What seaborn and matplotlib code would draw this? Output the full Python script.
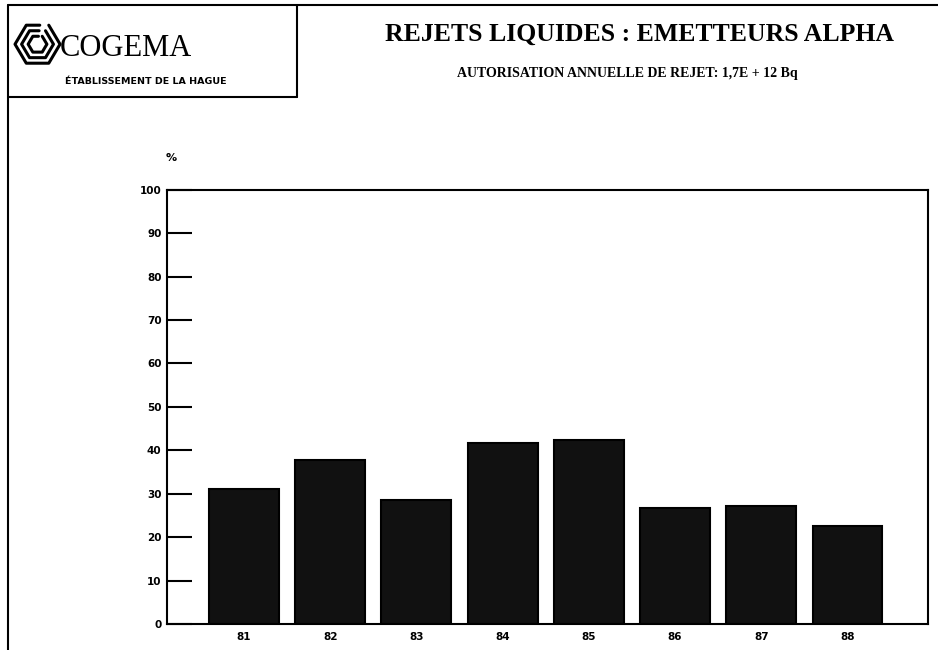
import matplotlib
matplotlib.use("Agg")
import matplotlib.pyplot as plt
import seaborn as sns
from matplotlib.lines import Line2D

# data
years = ["81", "82", "83", "84", "85", "86", "87", "88"]
percent = [31.2, 37.8, 28.6, 41.6, 42.4, 26.7, 27.2, 22.6]
y_ticks = [0, 10, 20, 30, 40, 50, 60, 70, 80, 90, 100]

sns.set_style("white")
plt.rcParams["font.family"] = ["DejaVu Sans"]
plt.rcParams["text.color"] = "black"
plt.rcParams["xtick.color"] = "black"
plt.rcParams["ytick.color"] = "black"

fig = plt.figure(figsize=(9.38, 6.5), dpi=100)
ax = fig.add_axes([0.178, 0.040, 0.811, 0.668])

sns.barplot(x=years, y=percent, color="#111111", edgecolor="black",
            linewidth=1.5, width=0.81, saturation=1, ax=ax)

ax.set_xlim(-0.893, 7.93)
ax.set_ylim(0, 100)
ax.set_yticks(y_ticks)
ax.set_yticklabels([str(t) for t in y_ticks], fontsize=7.5, fontweight="bold")
ax.set_xticklabels(years, fontsize=7.5, fontweight="bold")
ax.tick_params(axis="y", direction="in", length=18, width=1.5, pad=4,
               left=True)
ax.tick_params(axis="x", length=0, pad=6)
ax.set_xlabel("")
ax.set_ylabel("")
for s in ax.spines.values():
    s.set_visible(True)
    s.set_linewidth(1.5)
    s.set_color("black")

# "%" unit label above the axis
fig.text(0.183, 0.757, "%", fontsize=8, fontweight="bold", ha="center", va="center")

# titles
fig.text(0.682, 0.948, "REJETS LIQUIDES : EMETTEURS ALPHA",
         fontsize=18.5, family="Liberation Serif", fontweight="bold",
         ha="center", va="center")
fig.text(0.669, 0.887, "AUTORISATION ANNUELLE DE REJET: 1,7E + 12 Bq",
         fontsize=10, family="Liberation Serif", fontweight="bold",
         ha="center", va="center")

# logo box and page frame
frame = dict(color="black", linewidth=1.5, transform=fig.transFigure)
fig.add_artist(Line2D([0.009, 1.0], [0.992, 0.992], **frame))
fig.add_artist(Line2D([0.009, 0.009], [0.0, 0.992], **frame))
fig.add_artist(Line2D([0.317, 0.317], [0.851, 0.992], **frame))
fig.add_artist(Line2D([0.009, 0.317], [0.851, 0.851], **frame))

# COGEMA emblem, rough hexagonal spiral
hx = 0.040
hy = 0.932
for k, r in enumerate([0.024, 0.017, 0.010]):
    xs = [hx + r * c for c in [0.5, 1.0, 0.5, -0.5, -1.0, -0.5, 0.1]]
    ys = [hy + r * 1.4 * c for c in [0.87, 0.0, -0.87, -0.87, 0.0, 0.87, 0.87]]
    fig.add_artist(Line2D(xs, ys, color="black", linewidth=2.2,
                          transform=fig.transFigure))

fig.text(0.064, 0.925, "COGEMA", fontsize=22, family="Liberation Serif",
         ha="left", va="center")
fig.text(0.069, 0.875, "ÉTABLISSEMENT DE LA HAGUE", fontsize=6.8,
         fontweight="bold", ha="left", va="center")

fig.savefig("out.png", dpi=100, facecolor="white")
